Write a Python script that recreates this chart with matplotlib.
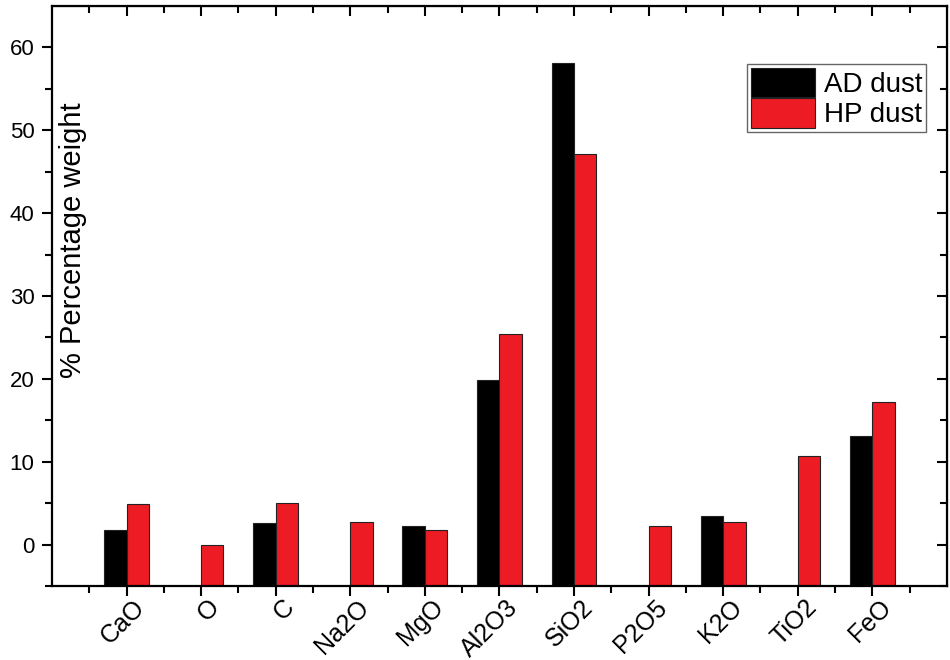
import matplotlib
matplotlib.use("Agg")
import matplotlib.pyplot as plt
import matplotlib.transforms as mtransforms
import numpy as np

plt.rcParams['font.family'] = ['Liberation Sans', 'DejaVu Sans']

categories = ['CaO', 'O', 'C', 'Na2O', 'MgO', 'Al2O3', 'SiO2', 'P2O5', 'K2O', 'TiO2', 'FeO']
ad_dust = [1.8, np.nan, 2.6, np.nan, 2.3, 19.9, 58.1, np.nan, 3.5, np.nan, 13.1]
hp_dust = [4.9, 0.0, 5.0, 2.7, 1.8, 25.4, 47.1, 2.2, 2.7, 10.7, 17.2]

c_ad = '#000000'
c_hp = '#ed1c24'
bar_width = 0.3
y_base = -5

fig = plt.figure(figsize=(9.5, 6.6), dpi=100)
ax = fig.add_axes([0.0547, 0.112, 0.942, 0.879])

index = np.arange(len(categories))
ad = np.array(ad_dust)
hp = np.array(hp_dust)
ax.bar(index - bar_width / 2, ad - y_base, bar_width, bottom=y_base, color=c_ad,
       edgecolor='#222222', linewidth=0.8, label='AD dust')
ax.bar(index + bar_width / 2, hp - y_base, bar_width, bottom=y_base, color=c_hp,
       edgecolor='#222222', linewidth=0.8, label='HP dust')

ax.set_xlim(-1, 11)
ax.set_ylim(-5, 65)
ax.set_xticks(index)
ax.set_xticks(np.arange(-0.5, 11, 1), minor=True)
ax.set_yticks(np.arange(0, 61, 10))
ax.set_yticks(np.arange(-5, 65, 5), minor=True)

for s in ax.spines.values():
    s.set_linewidth(1.6)

ax.tick_params(which='major', length=7.5, width=1.5, direction='out')
ax.tick_params(which='minor', length=5, width=1.5, direction='out')
ax.tick_params(axis='x', which='major', pad=5)
ax.tick_params(axis='y', labelsize=16, pad=5)

# mirrored ticks on top/right, pointing inward
axt = ax.secondary_xaxis('top')
axt.set_xticks(index)
axt.set_xticks(np.arange(-0.5, 11, 1), minor=True)
axt.tick_params(which='major', direction='in', length=7.5, width=1.5, labeltop=False)
axt.tick_params(which='minor', direction='in', length=5, width=1.5)
axr = ax.secondary_yaxis('right')
axr.set_yticks(np.arange(0, 61, 10))
axr.set_yticks(np.arange(-5, 65, 5), minor=True)
axr.tick_params(which='major', direction='in', length=7.5, width=1.5, labelright=False)
axr.tick_params(which='minor', direction='in', length=5, width=1.5)

# rotated category labels, nudged right like the original
ax.set_xticklabels(categories, rotation=45, ha='right', va='center',
                   rotation_mode='anchor', fontsize=18)
shift = mtransforms.ScaledTranslation(0.15, 0, fig.dpi_scale_trans)
for lab in ax.xaxis.get_majorticklabels():
    lab.set_transform(lab.get_transform() + shift)

ax.set_ylabel('% Percentage weight', fontsize=21)
ax.yaxis.set_label_coords(0.039, 0.597)

leg = ax.legend(loc='upper right', bbox_to_anchor=(0.977, 0.9), borderaxespad=0,
                fontsize=20, fancybox=False, framealpha=1,
                handlelength=2.3, handleheight=1.25, labelspacing=0.0,
                handletextpad=0.3, borderpad=0.15)
leg.get_frame().set_edgecolor('#666666')
leg.get_frame().set_linewidth(1.0)

plt.savefig('out.png', dpi=100)
